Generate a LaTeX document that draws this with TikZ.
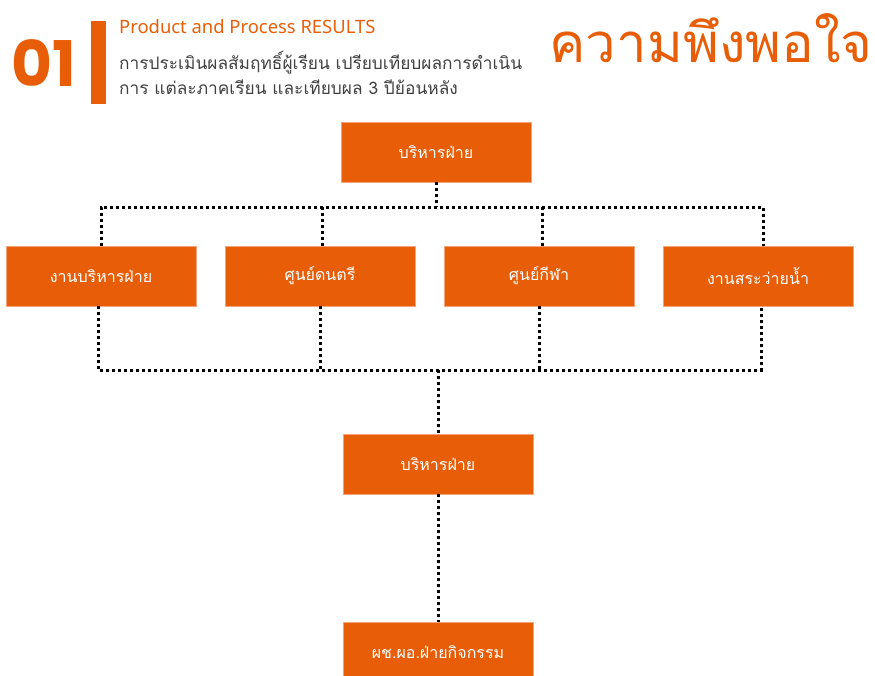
\documentclass[tikz,border=0pt]{standalone}
\usepackage{fontspec}
\setmainfont{Noto Sans}
\newfontfamily\thai[Script=Thai]{Loma}
\newfontfamily\poppins{Poppins}
\usepackage{tikz}
\usetikzlibrary{positioning}
\definecolor{orng}{RGB}{232,94,8}
\definecolor{orngedge}{RGB}{245,165,120}
\definecolor{txtgray}{RGB}{64,64,64}
\tikzset{
  box/.style={rectangle, fill=orng, draw=orngedge, line width=0.8pt,
    minimum width=190pt, minimum height=60pt, inner sep=0pt,
    text=white, font=\thai\fontsize{16}{18}\selectfont},
  dots/.style={line width=3pt, dash pattern=on 3pt off 3pt},
  subline/.style={font=\thai\fontsize{17.3}{20}\selectfont, text=txtgray, anchor=base west, inner sep=0pt}
}

\begin{document}
\begin{tikzpicture}[x=1pt, y=-1pt]
  \useasboundingbox (0,0) rectangle (875,675);

  \node[font=\poppins\bfseries\fontsize{63}{63}\selectfont, text=orng, anchor=west, inner sep=0pt] (num) at (11,63) {01};
  \fill[orng] (91,21) rectangle (106,104);
  \node[font=\fontsize{18.4}{20}\selectfont, text=orng, anchor=base west, inner sep=0pt] (en) at (119,33) {Product and Process RESULTS};
  \node[subline] (sub1) at (119,69) {การประเมินผลสัมฤทธิ์ผู้เรียน เปรียบเทียบผลการดำเนิน};
  \node[subline] (sub2) at (119,94) {การ แต่ละภาคเรียน และเทียบผล 3 ปีย้อนหลัง};
  \node[font=\thai\fontsize{54.5}{56}\selectfont, text=orng, anchor=base east, inner sep=0pt] (title) at (873,62) {ความพึงพอใจ};

  \node[box] (top) at (436,152) {บริหารฝ่าย};
  \node[box] (a) at (101,276) {งานบริหารฝ่าย};
  \node[box] (b) at (320,276) {ศูนย์ดนตรี};
  \node[box] (c) at (539,276) {ศูนย์กีฬา};
  \node[box] (d) at (758,276) {งานสระว่ายน้ำ};
  \node[box] (mid) at (438,464) {บริหารฝ่าย};
  \node[box] (last) at (438,652) {ผช.ผอ.ฝ่ายกิจกรรม};

  \coordinate (u) at (436,207);
  \coordinate (v) at (438,370);

  \draw[dots] (top.south) -- (u);
  \draw[dots] (a.north) |- ([xshift=5pt]d.north |- u) -- ([xshift=5pt]d.north);
  \draw[dots] ([xshift=2pt]b.north) -- ([xshift=2pt]b.north |- u);
  \draw[dots] ([xshift=3pt]c.north) -- ([xshift=3pt]c.north |- u);

  \draw[dots] ([xshift=-3pt]a.south) |- ([xshift=3pt]d.south |- v) -- ([xshift=3pt]d.south);
  \draw[dots] (b.south) -- (b.south |- v);
  \draw[dots] (c.south) -- (c.south |- v);
  \draw[dots] (v) -- (mid.north);
  \draw[dots] (mid.south) -- (last.north);

\end{tikzpicture}
\end{document}
